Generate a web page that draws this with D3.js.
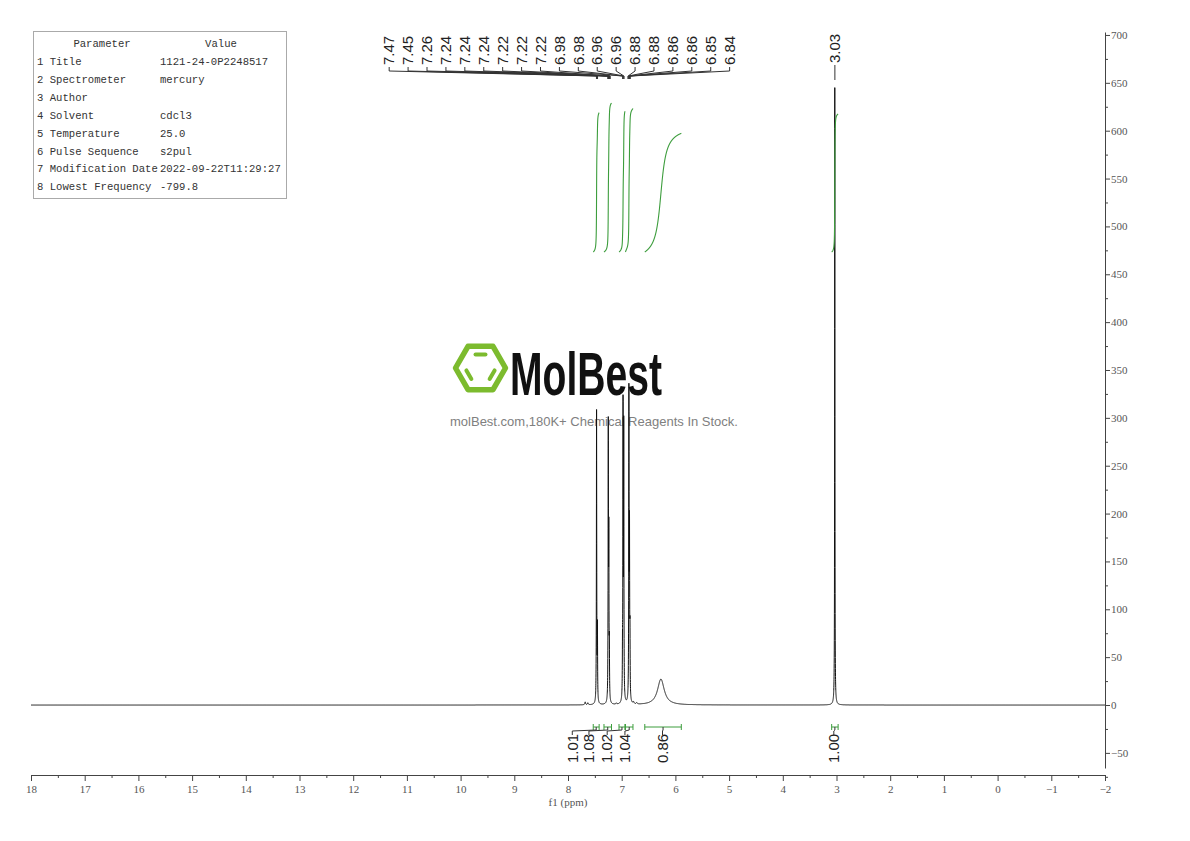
<!DOCTYPE html>
<html><head><meta charset="utf-8">
<script src="https://cdn.jsdelivr.net/npm/d3@7"></script>
<style>body{margin:0;background:#fff} svg{display:block}</style>
</head><body><svg id="c" width="1190" height="841"></svg>
<script>
// ---------------- data ----------------
const paramNames = ["1 Title","2 Spectrometer","3 Author","4 Solvent","5 Temperature","6 Pulse Sequence","7 Modification Date","8 Lowest Frequency"];
const paramValues = ["1121-24-0P2248517","mercury","","cdcl3","25.0","s2pul","2022-09-22T11:29:27","-799.8"];
const xTickValues = [18,17,16,15,14,13,12,11,10,9,8,7,6,5,4,3,2,1,0,-1,-2];
const yTickValues = [-50,0,50,100,150,200,250,300,350,400,450,500,550,600,650,700];
// spectrum lines (ppm, height, half-width in ppm)
const peakPpm    = [7.468, 7.452, 7.250, 7.240, 7.230, 6.985, 6.975, 6.962, 6.866, 6.855, 6.846, 6.27, 3.032, 7.68, 7.63, 6.78, 6.72, 7.10];
const peakHeight = [305,   75,    282,   160,   50,    40,    300,   280,   318,   165,   60,    27,   645,   3,    2,    2,    1.5,  1.2];
const peakHwhm   = [0.0035,0.0035,0.0035,0.0035,0.0035,0.0035,0.0035,0.0035,0.0035,0.0035,0.0035,0.075, 0.003, 0.008,0.008,0.01, 0.01, 0.008];
const peakLabels = ["7.47","7.45","7.26","7.24","7.24","7.24","7.22","7.22","7.22","6.98","6.98","6.96","6.96","6.88","6.88","6.86","6.86","6.85","6.84"];
const singletLabel = "3.03";
const integralFrom   = [7.53, 7.33, 7.05, 6.93, 6.57, 3.09];
const integralTo     = [7.42, 7.19, 6.94, 6.79, 5.89, 2.97];
const integralValues = [1.01, 1.08, 1.02, 1.04, 0.86, 1.00];
const integralLabelPpm = [7.92, 7.61, 7.27, 6.94, 6.24, 3.05];

// ---------------- setup ----------------
const svg = d3.select("#c");
const x = d3.scaleLinear().domain([18, -2]).range([31, 1105]);
const y = d3.scaleLinear().domain([-65.8, 703.1]).range([768, 32]);
const intY = d3.scaleLinear().domain([0, 1]).range([252, 114]);
const green = "#3d9d3d";

// ---------------- parameter table ----------------
const tbl = svg.append("g").attr("font-family","'Liberation Mono', monospace").attr("font-size","10.6px").attr("fill","#333");
tbl.append("rect").attr("x",33.5).attr("y",31.5).attr("width",253).attr("height",167).attr("fill","#fff").attr("stroke","#aaa");
tbl.append("text").attr("x",102).attr("y",47).attr("text-anchor","middle").text("Parameter");
tbl.append("text").attr("x",221).attr("y",47).attr("text-anchor","middle").text("Value");
paramNames.forEach((n,i)=>{
  const by = 65 + i*17.9;
  tbl.append("text").attr("x",37).attr("y",by).text(n);
  tbl.append("text").attr("x",160).attr("y",by).text(paramValues[i]);
});

// ---------------- watermark ----------------
const wm = svg.append("g");
const cx = 480.5, cy = 368, R = 25;
const hexPts = d3.range(6).map(k=>[cx + R*Math.cos(k*Math.PI/3), cy + R*Math.sin(k*Math.PI/3)]);
wm.append("path").attr("d", d3.line().curve(d3.curveLinearClosed)(hexPts))
  .attr("fill","none").attr("stroke","#7cbb2e").attr("stroke-width",5.5).attr("stroke-linejoin","round");
const r2 = 15.5;
[[4,5],[2,3],[0,1]].forEach(([a,b])=>{
  const pa=[cx+r2*Math.cos(a*Math.PI/3), cy+r2*Math.sin(a*Math.PI/3)];
  const pb=[cx+r2*Math.cos(b*Math.PI/3), cy+r2*Math.sin(b*Math.PI/3)];
  const t=0.18;
  wm.append("line").attr("x1",pa[0]+(pb[0]-pa[0])*t).attr("y1",pa[1]+(pb[1]-pa[1])*t)
    .attr("x2",pb[0]-(pb[0]-pa[0])*t).attr("y2",pb[1]-(pb[1]-pa[1])*t)
    .attr("stroke","#7cbb2e").attr("stroke-width",4).attr("stroke-linecap","round");
});
wm.append("text").attr("x",510).attr("y",395).attr("font-family","'Liberation Sans', Arial, sans-serif")
  .attr("font-size","62px").attr("font-weight","bold").attr("fill","#111").attr("textLength",152).attr("lengthAdjust","spacingAndGlyphs").text("MolBest");
wm.append("text").attr("x",594).attr("y",426).attr("text-anchor","middle").attr("font-family","'Liberation Sans', Arial, sans-serif")
  .attr("font-size","13px").attr("fill","#808080").text("molBest.com,180K+ Chemical Reagents In Stock.");

// ---------------- spectrum ----------------
function f(p){
  let s=0;
  for(let i=0;i<peakPpm.length;i++){const d=p-peakPpm[i], w=peakHwhm[i]; s+=peakHeight[i]*w*w/(d*d+w*w);}
  return s;
}
let grid = d3.range(18, -2.0005, -0.0008).concat(peakPpm);
grid.sort((a,b)=>b-a);
const specData = grid.map(p=>[p, f(p)]);
svg.append("path").datum(specData)
  .attr("d", d3.line().x(d=>x(d[0])).y(d=>y(d[1])))
  .attr("fill","none").attr("stroke","#111").attr("stroke-width",1);

// ---------------- integrals ----------------
const ig = svg.append("g");
integralFrom.forEach((from,i)=>{
  const to = integralTo[i];
  const pts = d3.range(from, to-0.00001, -0.0005);
  let cum=0; const vals=[0];
  for(let k=1;k<pts.length;k++){cum += (f(pts[k-1])+f(pts[k]))/2; vals.push(cum);}
  const data = pts.map((p,k)=>[p, vals[k]/cum*integralValues[i]]);
  ig.append("path").datum(data).attr("d", d3.line().x(d=>x(d[0])).y(d=>intY(d[1])))
    .attr("fill","none").attr("stroke",green).attr("stroke-width",1.1);
  // bracket
  const by = 727, x1 = x(from), x2 = x(to), xc=(x1+x2)/2;
  ig.append("path").attr("d",`M${x1},${by-3}V${by+3}M${x1},${by}H${x2}M${x2},${by-3}V${by+3}`)
    .attr("fill","none").attr("stroke",green).attr("stroke-width",1);
  const lx = x(integralLabelPpm[i]);
  ig.append("path").attr("d",`M${xc},${by}V${by+3}L${lx},${731}V${735}`)
    .attr("fill","none").attr("stroke","#333").attr("stroke-width",1);
  ig.append("text").attr("transform",`translate(${lx},763) rotate(-90)`).attr("dy","0.35em")
    .attr("font-family","'Liberation Sans', Arial, sans-serif").attr("font-size","15px").attr("fill","#222")
    .text(integralValues[i].toFixed(2));
});

// ---------------- peak labels ----------------
const pl = svg.append("g").attr("font-family","'Liberation Sans', Arial, sans-serif").attr("font-size","15px").attr("fill","#222");
const lxScale = d3.scaleLinear().domain([0, peakLabels.length-1]).range([x(11.33), x(4.99)]);
peakLabels.forEach((t,i)=>{
  const lx = lxScale(i), px = x(+t);
  pl.append("text").attr("transform",`translate(${lx},65) rotate(-90)`).attr("dy","0.35em").text(t);
  pl.append("path").attr("d",`M${lx},67V71L${px},76V79`).attr("fill","none").attr("stroke","#333").attr("stroke-width",1);
});
const sx = x(+singletLabel);
pl.append("text").attr("transform",`translate(${sx},63) rotate(-90)`).attr("dy","0.35em").text(singletLabel);
pl.append("path").attr("d",`M${sx},65V80`).attr("stroke","#333").attr("stroke-width",1);

// ---------------- axes ----------------
const axFont = "'Liberation Serif', 'DejaVu Serif', serif";
svg.append("g").attr("transform","translate(0,775)")
  .call(d3.axisBottom(x).tickValues(xTickValues).tickSize(6).tickSizeOuter(0).tickPadding(4).tickFormat(d3.format("d")));
svg.append("g").attr("transform","translate(0,775)")
  .call(d3.axisBottom(x).tickValues(xTickValues.slice(0,-1).map(v=>v-0.5)).tickSize(3).tickFormat(""))
  .select(".domain").remove();
svg.append("g").attr("transform","translate(1105,0)")
  .call(d3.axisRight(y).tickValues(yTickValues).tickSize(5).tickSizeOuter(0).tickPadding(1).tickFormat(d3.format("d")));
svg.append("g").attr("transform","translate(1105,0)")
  .call(d3.axisRight(y).tickValues(yTickValues.map(v=>v-25)).tickSize(3).tickFormat(""))
  .select(".domain").remove();
svg.selectAll(".tick text").attr("font-family",axFont).attr("font-size","11px").attr("fill","#555");
svg.selectAll(".domain, .tick line").attr("stroke","#444");
svg.append("text").attr("x",x(8)).attr("y",806).attr("text-anchor","middle")
  .attr("font-family",axFont).attr("font-size","11px").attr("fill","#555").text("f1 (ppm)");
</script></body></html>
